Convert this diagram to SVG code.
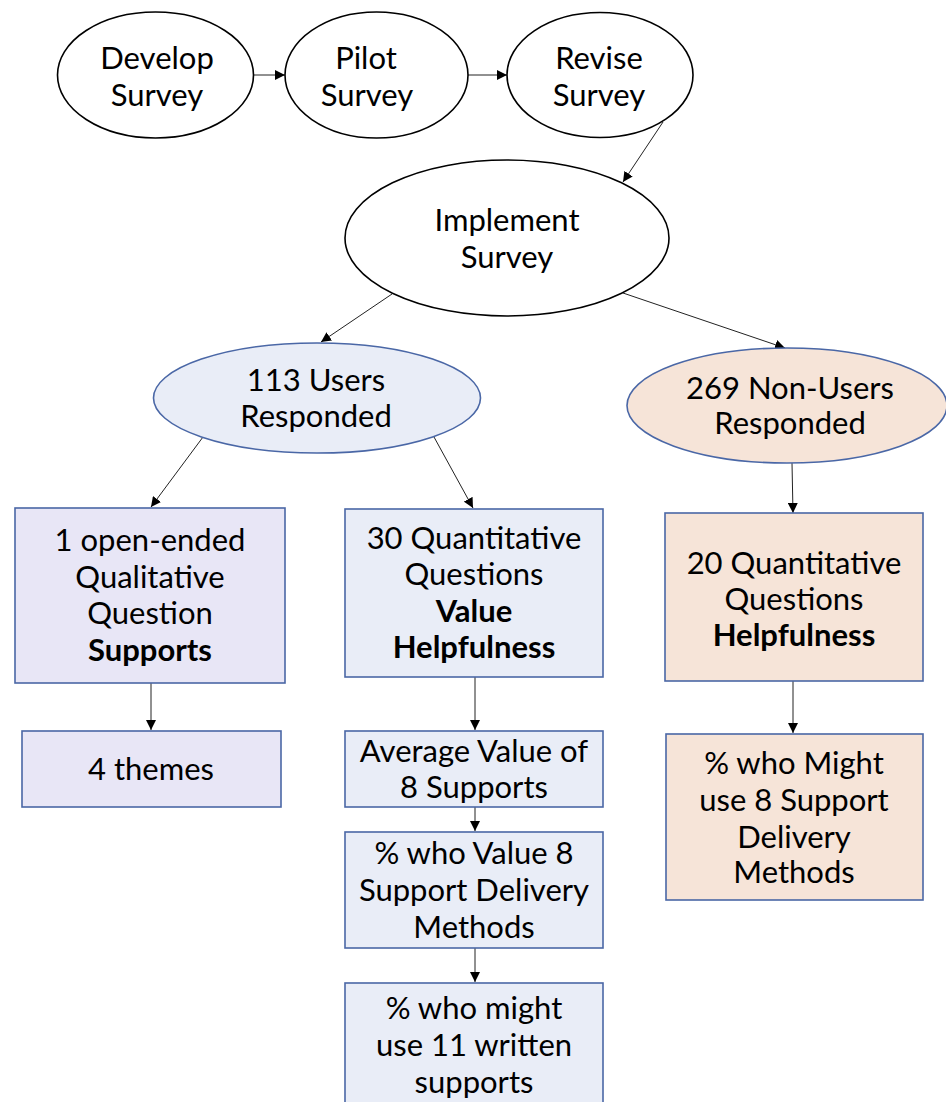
<svg xmlns="http://www.w3.org/2000/svg" width="946" height="1102" viewBox="0 0 946 1102">
<style>
text{font-family:Lato,"Open Sans","Liberation Sans",sans-serif;font-size:31px;fill:#000;text-anchor:middle}
.b{font-weight:bold}
.w{fill:#fff;stroke:#000;stroke-width:1.6}
.u{fill:#E9EDF7;stroke:#4A67A6;stroke-width:1.6}
.q{fill:#E8E6F6;stroke:#4A67A6;stroke-width:1.6}
.n{fill:#F6E4D8;stroke:#4A67A6;stroke-width:1.6}
.c{stroke:#222;stroke-width:1;fill:none;marker-end:url(#ah)}
</style>
<defs>
<marker id="ah" viewBox="0 0 10 10" refX="10" refY="5" markerWidth="10" markerHeight="10" markerUnits="userSpaceOnUse" orient="auto">
<path d="M0,0 L10,5 L0,10 z" fill="#000"/>
</marker>
</defs>
<g id="connectors">
<line class="c" x1="254" y1="75" x2="285" y2="75"/>
<line class="c" x1="468" y1="75" x2="507" y2="75"/>
<line class="c" x1="663" y1="122" x2="623" y2="182"/>
<line class="c" x1="392" y1="294" x2="321" y2="342"/>
<line class="c" x1="623" y1="293" x2="785" y2="348"/>
<line class="c" x1="203" y1="437" x2="151" y2="507"/>
<line class="c" x1="434" y1="437" x2="473" y2="508"/>
<line class="c" x1="792" y1="463" x2="793" y2="513"/>
<line class="c" x1="151" y1="683" x2="151" y2="730"/>
<line class="c" x1="475" y1="677" x2="475" y2="730"/>
<line class="c" x1="475" y1="807" x2="475" y2="831"/>
<line class="c" x1="475" y1="948" x2="475" y2="982"/>
<line class="c" x1="793" y1="681" x2="793" y2="733"/>
</g>
<g id="develop"><ellipse class="w" cx="155.5" cy="75" rx="98" ry="63"/><text x="157" y="69">Develop</text><text x="157" y="106">Survey</text></g>
<g id="pilot"><ellipse class="w" cx="376.5" cy="75" rx="91.5" ry="63"/><text x="366" y="69">Pilot</text><text x="367" y="106">Survey</text></g>
<g id="revise"><ellipse class="w" cx="600" cy="75" rx="93" ry="62.5"/><text x="599" y="69">Revise</text><text x="599" y="106">Survey</text></g>
<g id="implement"><ellipse class="w" cx="507" cy="238" rx="162" ry="78"/><text x="507" y="231">Implement</text><text x="507" y="268">Survey</text></g>
<g id="users"><ellipse class="u" cx="317" cy="398" rx="163.5" ry="55"/><text x="316" y="391">113 Users</text><text x="316" y="427">Responded</text></g>
<g id="nonusers"><ellipse class="n" cx="787" cy="405.5" rx="160" ry="57.5"/><text x="790" y="399">269 Non-Users</text><text x="790" y="434">Responded</text></g>
<g id="qual"><rect class="q" x="15" y="508" width="270" height="175"/><text x="150" y="551">1 open-ended</text><text x="150" y="588">Qualitative</text><text x="150" y="624">Question</text><text x="150" y="661" class="b">Supports</text></g>
<g id="quant30"><rect class="u" x="345" y="509" width="258" height="168"/><text x="474" y="549">30 Quantitative</text><text x="474" y="585">Questions</text><text x="474" y="622" class="b">Value</text><text x="474" y="658" class="b">Helpfulness</text></g>
<g id="quant20"><rect class="n" x="665" y="513" width="258" height="168"/><text x="794" y="574">20 Quantitative</text><text x="794" y="610">Questions</text><text x="794" y="646" class="b">Helpfulness</text></g>
<g id="themes"><rect class="q" x="22" y="731" width="259" height="76"/><text x="151" y="780">4 themes</text></g>
<g id="average"><rect class="u" x="345" y="731" width="258" height="76"/><text x="474" y="762">Average Value of</text><text x="474" y="798">8 Supports</text></g>
<g id="valuedelivery"><rect class="u" x="345" y="832" width="258" height="116"/><text x="474" y="864">% who Value 8</text><text x="474" y="901">Support Delivery</text><text x="474" y="938">Methods</text></g>
<g id="written"><rect class="u" x="345" y="983" width="258" height="130"/><text x="474" y="1019">% who might</text><text x="474" y="1056">use 11 written</text><text x="474" y="1093">supports</text></g>
<g id="mightdelivery"><rect class="n" x="666" y="734" width="257" height="166"/><text x="794" y="774">% who Might</text><text x="794" y="811">use 8 Support</text><text x="794" y="848">Delivery</text><text x="794" y="883">Methods</text></g>
</svg>
